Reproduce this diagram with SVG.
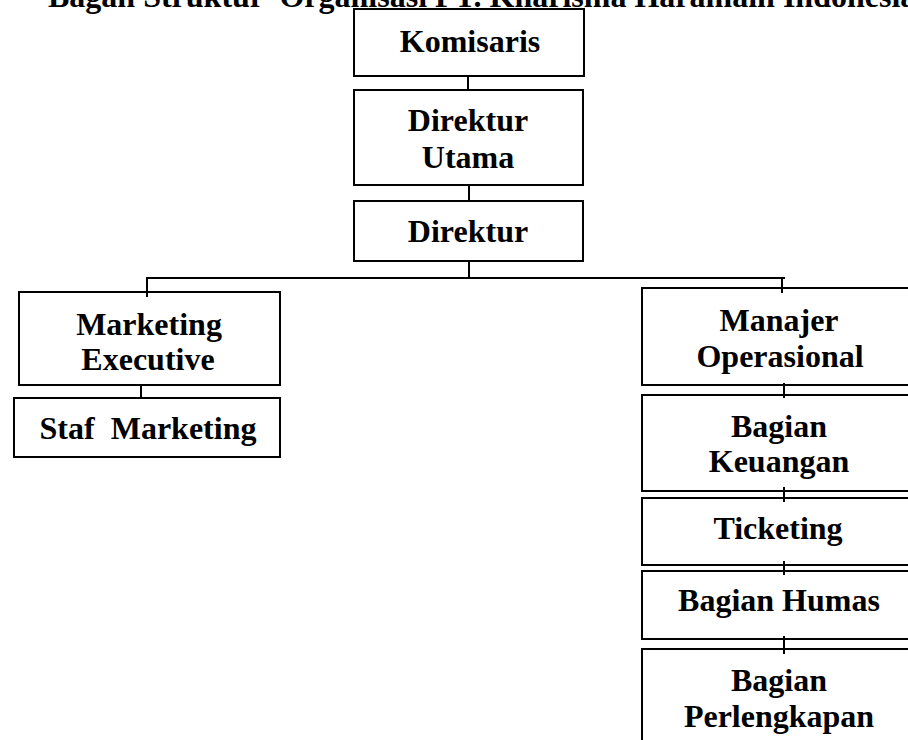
<svg xmlns="http://www.w3.org/2000/svg" width="908" height="740" viewBox="0 0 908 740">
<style>
.box{fill:#fff;stroke:#000;stroke-width:2}
.t{font-family:"Liberation Serif","Times New Roman",serif;font-weight:bold;font-size:32px;fill:#000;text-anchor:middle;white-space:pre}
.title{font-family:"Liberation Serif","Times New Roman",serif;font-weight:bold;font-size:32px;fill:#000;white-space:pre}
.c line{stroke:#000;stroke-width:2}
</style>
<rect width="908" height="740" fill="#fff"/>
<text class="title" x="48" y="7" xml:space="preserve">Bagan Struktur  Organisasi PT. Kharisma Haramain Indonesia</text>
<g id="komisaris"><rect class="box" x="354" y="9" width="230" height="67"/><text class="t" x="470" y="52">Komisaris</text></g>
<g id="direktur-utama"><rect class="box" x="354" y="90" width="229" height="95"/><text class="t" x="468" y="131">Direktur</text><text class="t" x="468" y="168">Utama</text></g>
<g id="direktur"><rect class="box" x="354" y="201" width="229" height="60"/><text class="t" x="468" y="242">Direktur</text></g>
<g id="marketing-executive"><rect class="box" x="19" y="292" width="261" height="93"/><text class="t" x="149" y="335">Marketing</text><text class="t" x="148" y="370">Executive</text></g>
<g id="staf-marketing"><rect class="box" x="14" y="398" width="266" height="59"/><text class="t" x="148" y="439" xml:space="preserve">Staf  Marketing</text></g>
<g id="manajer-operasional"><rect class="box" x="642" y="288" width="270" height="97"/><text class="t" x="779" y="331">Manajer</text><text class="t" x="780" y="367">Operasional</text></g>
<g id="bagian-keuangan"><rect class="box" x="642" y="395" width="270" height="96"/><text class="t" x="779" y="437">Bagian</text><text class="t" x="779" y="472">Keuangan</text></g>
<g id="ticketing"><rect class="box" x="642" y="498" width="270" height="67"/><text class="t" x="778" y="539">Ticketing</text></g>
<g id="bagian-humas"><rect class="box" x="642" y="571" width="270" height="68"/><text class="t" x="779" y="611">Bagian Humas</text></g>
<g id="bagian-perlengkapan"><rect class="box" x="642" y="649" width="270" height="100"/><text class="t" x="779" y="691">Bagian</text><text class="t" x="779" y="727">Perlengkapan</text></g>
<g id="connectors" class="c">
<line x1="468" y1="76" x2="468" y2="90"/>
<line x1="469" y1="185" x2="469" y2="201"/>
<line x1="469" y1="261" x2="469" y2="278"/>
<line x1="146" y1="278" x2="785" y2="278"/>
<line x1="147" y1="278" x2="147" y2="297"/>
<line x1="141" y1="385" x2="141" y2="398"/>
<line x1="782" y1="279" x2="782" y2="293"/>
<line x1="784" y1="383" x2="784" y2="398"/>
<line x1="784" y1="487" x2="784" y2="502"/>
<line x1="784" y1="561" x2="784" y2="575"/>
<line x1="784" y1="636" x2="784" y2="654"/>
</g>
</svg>
